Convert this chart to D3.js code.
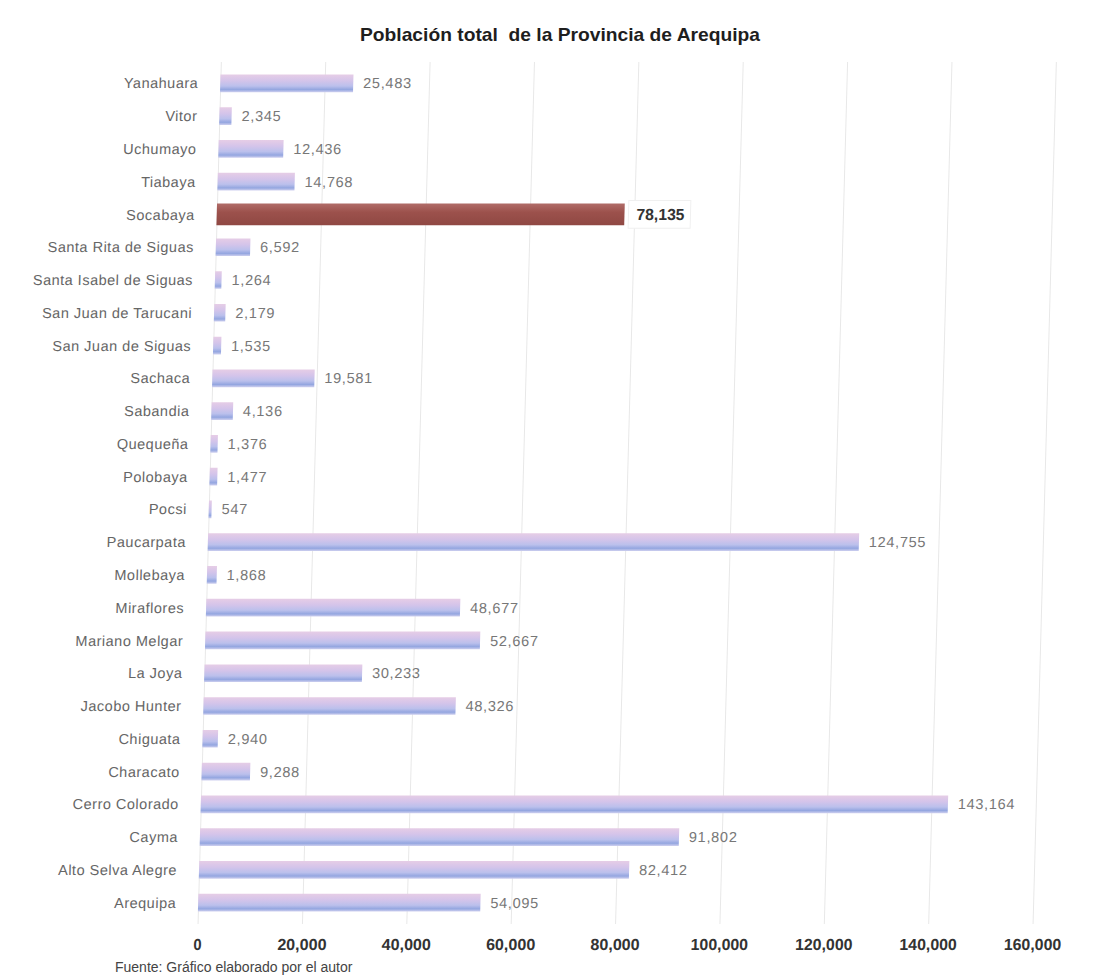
<!DOCTYPE html>
<html>
<head>
<meta charset="utf-8">
<script src="https://cdn.jsdelivr.net/npm/d3@7"></script>
<style>
  html, body { margin: 0; padding: 0; background: #ffffff; }
  svg { display: block; }
</style>
</head>
<body>
<svg id="chart" width="1112" height="976"></svg>
<script>
// ---------- data ----------
const title = "Población total  de la Provincia de Arequipa";
const footer = "Fuente: Gráfico elaborado por el autor";
const categories = [
  "Yanahuara", "Vitor", "Uchumayo", "Tiabaya", "Socabaya",
  "Santa Rita de Siguas", "Santa Isabel de Siguas", "San Juan de Tarucani",
  "San Juan de Siguas", "Sachaca", "Sabandia", "Quequeña", "Polobaya", "Pocsi",
  "Paucarpata", "Mollebaya", "Miraflores", "Mariano Melgar", "La Joya",
  "Jacobo Hunter", "Chiguata", "Characato", "Cerro Colorado", "Cayma",
  "Alto Selva Alegre", "Arequipa"
];
const population = [
  25483, 2345, 12436, 14768, 78135,
  6592, 1264, 2179,
  1535, 19581, 4136, 1376, 1477, 547,
  124755, 1868, 48677, 52667, 30233,
  48326, 2940, 9288, 143164, 91802,
  82412, 54095
];
const highlighted = ["Socabaya"];
const xTicks = [0, 20000, 40000, 60000, 80000, 100000, 120000, 140000, 160000];

// ---------- layout ----------
const svg = d3.select("#chart");
const x0 = 197, xMax = 160000, plotW = 835;
const skewTan = 0.027;        // scanned page is slightly sheared
const baseY = 945;

const x = d3.scaleLinear().domain([0, xMax]).range([x0, x0 + plotW]);
const y = d3.scaleBand().domain(categories).range([67, 919]).paddingInner(0.46).paddingOuter(0.23);

const defs = svg.append("defs");
const g1 = defs.append("linearGradient").attr("id", "barGrad").attr("x1", 0).attr("y1", 0).attr("x2", 0).attr("y2", 1);
[["0%", "#e6cde6"], ["35%", "#d4c4ea"], ["65%", "#bbc0ec"], ["85%", "#94a6e0"], ["100%", "#cfd0ef"]]
  .forEach(([o, c]) => g1.append("stop").attr("offset", o).attr("stop-color", c));
const g2 = defs.append("linearGradient").attr("id", "hiGrad").attr("x1", 0).attr("y1", 0).attr("x2", 0).attr("y2", 1);
[["0%", "#b06c68"], ["40%", "#9c514c"], ["100%", "#8f4843"]]
  .forEach(([o, c]) => g2.append("stop").attr("offset", o).attr("stop-color", c));

const narrow = "'Liberation Sans', Arial, sans-serif";

// title
svg.append("text")
  .attr("x", 560).attr("y", 41)
  .attr("text-anchor", "middle")
  .style("white-space", "pre")
  .attr("font-family", narrow)
  .attr("font-weight", "bold")
  .attr("font-size", 19)
  .attr("textLength", 400)
  .attr("lengthAdjust", "spacingAndGlyphs")
  .attr("fill", "#1e1e1e")
  .text(title);

// sheared plot group
const plot = svg.append("g")
  .attr("transform", `translate(${skewTan * baseY},0) skewX(${-Math.atan(skewTan) * 180 / Math.PI})`);

// gridlines
const grid = d3.axisBottom(x).tickValues(xTicks).tickSize(-(924 - 62)).tickFormat("");
plot.append("g")
  .attr("transform", "translate(0,924)")
  .call(grid)
  .call(g => g.select(".domain").remove())
  .call(g => g.selectAll("line").attr("stroke", "#e8e8e8").attr("stroke-width", 1));

// tick labels
const axis = d3.axisBottom(x).tickValues(xTicks).tickSize(0).tickPadding(0).tickFormat(d3.format(","));
plot.append("g")
  .attr("transform", "translate(0,939)")
  .call(axis)
  .call(g => g.select(".domain").remove())
  .call(g => g.selectAll("text")
    .attr("font-family", narrow)
    .attr("font-weight", "bold")
    .attr("font-size", 16)
    .attr("fill", "#333")
    .attr("textLength", function () { return this.textContent.length * 8.2; })
    .attr("lengthAdjust", "spacingAndGlyphs"));

const rows = categories.map((c, i) => ({ cat: c, val: population[i], hi: highlighted.includes(c) }));

// bars
plot.selectAll("rect.bar").data(rows).enter().append("rect")
  .attr("class", "bar")
  .attr("x", x(0))
  .attr("y", d => d.hi ? y(d.cat) - 2 : y(d.cat))
  .attr("width", d => x(d.val) - x(0))
  .attr("height", d => d.hi ? y.bandwidth() + 4 : y.bandwidth())
  .attr("fill", d => d.hi ? "url(#hiGrad)" : "url(#barGrad)");

// category labels
plot.selectAll("text.cat").data(rows).enter().append("text")
  .attr("class", "cat")
  .attr("x", x(0) - 22)
  .attr("y", d => y(d.cat) + y.bandwidth() / 2)
  .attr("dy", "0.35em")
  .attr("text-anchor", "end")
  .attr("font-family", "'Liberation Sans', Arial, sans-serif")
  .attr("font-size", 14.5)
  .attr("letter-spacing", 0.5)
  .attr("fill", "#666")
  .text(d => d.cat);

// value labels
const fmt = d3.format(",");
const vals = plot.selectAll("g.val").data(rows).enter().append("g").attr("class", "val");
vals.filter(d => d.hi).append("rect")
  .attr("x", d => x(d.val) + 4)
  .attr("y", d => y(d.cat) - 5)
  .attr("width", 62).attr("height", y.bandwidth() + 10)
  .attr("fill", "#ffffff").attr("stroke", "#f0f0f0");
vals.append("text")
  .attr("x", d => x(d.val) + (d.hi ? 12 : 10))
  .attr("y", d => y(d.cat) + y.bandwidth() / 2)
  .attr("dy", "0.35em")
  .attr("font-family", "'Liberation Sans', Arial, sans-serif")
  .attr("font-weight", d => d.hi ? "bold" : "normal")
  .attr("font-size", d => d.hi ? 16 : 14.5)
  .attr("letter-spacing", d => d.hi ? 0 : 0.7)
  .attr("textLength", d => d.hi ? 48 : null)
  .attr("lengthAdjust", "spacingAndGlyphs")
  .attr("fill", d => d.hi ? "#333" : "#777")
  .text(d => fmt(d.val));

// footer (at the page bottom)
svg.append("text")
  .attr("x", 115).attr("y", 972)
  .attr("font-family", "'Liberation Sans', Arial, sans-serif")
  .attr("font-size", 14)
  .attr("fill", "#444")
  .text(footer);
</script>
</body>
</html>
